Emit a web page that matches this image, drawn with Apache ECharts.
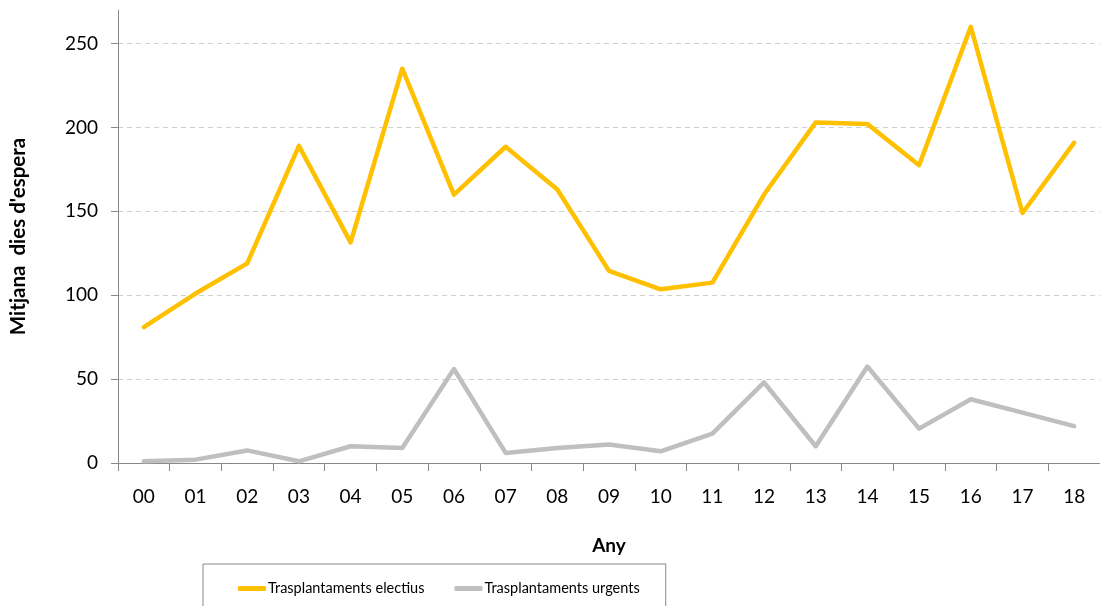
<!DOCTYPE html>
<html>
<head>
<meta charset="utf-8">
<script src="https://cdn.jsdelivr.net/npm/echarts@6/dist/echarts.min.js"></script>
<style>html,body{margin:0;padding:0;background:#fff}#c{width:1100px;height:606px}</style>
</head>
<body>
<div id="c"></div>
<script>
const categories = ['00','01','02','03','04','05','06','07','08','09','10','11','12','13','14','15','16','17','18'];
const electius = [81, 101, 119, 189, 131.5, 235, 160, 188.5, 163, 114.5, 103.5, 107.5, 160, 203, 202, 177.5, 260, 149, 191];
const urgents = [1, 2, 7.5, 1, 10, 9, 56, 6, 9, 11, 7, 17.5, 48, 10, 57.5, 20.5, 38, 30, 22];
const yTicks = [0, 50, 100, 150, 200, 250];
const seriesNames = ['Trasplantaments electius', 'Trasplantaments urgents'];
const yTitle = "Mitjana  dies d'espera";
const xTitle = 'Any';

const FONT = 'Lato, "Open Sans", sans-serif';
const chart = echarts.init(document.getElementById('c'), null, {renderer: 'canvas'});
chart.setOption({
  animation: false,
  backgroundColor: '#fff',
  textStyle: {fontFamily: FONT},
  grid: {left: 117, right: 0, top: 10, bottom: 143, containLabel: false},
  legend: {
    data: seriesNames,
    left: 203, top: 564,
    orient: 'horizontal',
    padding: [17, 26, 22, 35],
    itemGap: 30,
    itemWidth: 28, itemHeight: 5,
    borderColor: '#888', borderWidth: 1,
    icon: 'roundRect',
    textStyle: {fontFamily: FONT, fontSize: 14.5, color: '#000', padding: [0,0,0,-3]}
  },
  xAxis: {
    type: 'category',
    data: categories,
    boundaryGap: true,
    name: xTitle,
    nameLocation: 'middle',
    nameGap: 73,
    nameTextStyle: {fontFamily: FONT, fontSize: 19, fontWeight: 'bold', color: '#000'},
    axisLine: {show: true, lineStyle: {color: '#888', width: 1}},
    axisTick: {show: true, length: 8, alignWithLabel: false, lineStyle: {color: '#888'}},
    axisLabel: {margin: 24, fontFamily: FONT, fontSize: 19, color: '#000', interval: 0},
    splitLine: {show: false}
  },
  yAxis: {
    type: 'value',
    min: 0, max: 270, interval: 50,
    name: yTitle,
    nameLocation: 'middle',
    nameGap: 89,
    nameRotate: 90,
    nameTextStyle: {fontFamily: FONT, fontSize: 20.5, fontWeight: 'bold', color: '#000'},
    axisLine: {show: true, lineStyle: {color: '#888', width: 1}},
    axisTick: {show: true, length: 7, inside: false, customValues: yTicks, lineStyle: {color: '#888'}},
    axisLabel: {margin: 20, fontFamily: FONT, fontSize: 19, color: '#000', customValues: yTicks},
    splitLine: {show: true, showMinLine: false, showMaxLine: true, lineStyle: {color: '#d0d0d0', type: [5, 4], width: 1}}
  },
  series: [
    {
      name: seriesNames[0], type: 'line', data: electius,
      symbol: 'none', smooth: false,
      itemStyle: {color: '#FFC000'},
      lineStyle: {color: '#FFC000', width: 4.5, join: 'round', cap: 'round'}
    },
    {
      name: seriesNames[1], type: 'line', data: urgents,
      symbol: 'none', smooth: false,
      itemStyle: {color: '#BFBFBF'},
      lineStyle: {color: '#BFBFBF', width: 4.5, join: 'round', cap: 'round'}
    }
  ]
});
</script>
</body>
</html>
